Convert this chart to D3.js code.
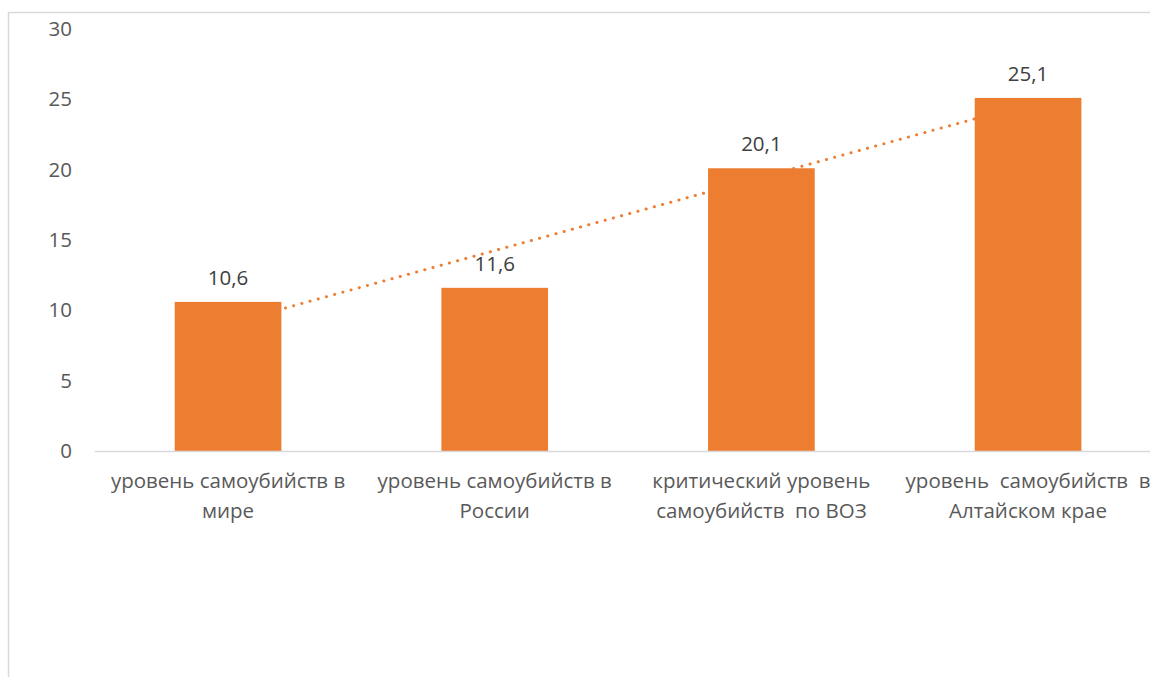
<!DOCTYPE html>
<html>
<head>
<meta charset="utf-8">
<script src="https://cdn.jsdelivr.net/npm/d3@7/dist/d3.min.js"></script>
<style>
  html, body { margin: 0; padding: 0; background: #fff; }
  svg { display: block; }
  text { font-family: "Open Sans", "Noto Sans", sans-serif; }
</style>
</head>
<body>
<svg id="chart" width="1150" height="677"></svg>
<script>
// Suicide rate per 100 000 population
const categories = [
  ["уровень самоубийств в", "мире"],
  ["уровень самоубийств в", "России"],
  ["критический уровень", "самоубийств  по ВОЗ"],
  ["уровень  самоубийств  в", "Алтайском крае"]
];
const values = [10.6, 11.6, 20.1, 25.1];
const valueLabels = ["10,6", "11,6", "20,1", "25,1"];
const yTicks = [0, 5, 10, 15, 20, 25, 30];

const svg = d3.select("#chart");
const W = 1150, H = 677;
const FONT = 20.5;

// chart frame (continues past the right and bottom edges)
svg.append("path")
  .attr("d", `M8.5,${H + 2}V12.5H${W + 2}`)
  .attr("fill", "none")
  .attr("stroke", "#d9d9d9")
  .attr("stroke-width", 1.5);

const plot = { left: 94.7, right: 1161.4, top: 29, bottom: 451 };
const ids = categories.map((_, i) => i);

const x = d3.scaleBand()
  .domain(ids)
  .range([plot.left, plot.right])
  .paddingInner(0.6)
  .paddingOuter(0.3);

const y = d3.scaleLinear()
  .domain([0, 30])
  .range([plot.bottom, plot.top]);

// y axis labels
const yAxis = d3.axisLeft(y).tickValues(yTicks).tickSize(0).tickPadding(0);
svg.append("g")
  .attr("transform", `translate(72,0)`)
  .call(yAxis)
  .call(g => g.select(".domain").remove())
  .call(g => g.selectAll("text")
    .attr("fill", "#595959")
    .style("font-size", FONT + "px")
    .style("font-family", "'Open Sans', sans-serif"));

// linear trend over the category series
const n = values.length;
const xs = ids.map(i => i + 1);
const mx = d3.mean(xs), my = d3.mean(values);
const slope = d3.sum(xs, (v, i) => (v - mx) * (values[i] - my)) / d3.sum(xs, v => (v - mx) ** 2);
const intercept = my - slope * mx;
const cx = i => x(i) + x.bandwidth() / 2;
const trend = [0, n - 1].map(i => [cx(i), y(intercept + slope * (i + 1))]);

svg.append("path")
  .attr("d", d3.line()(trend))
  .attr("fill", "none")
  .attr("stroke", "#ED7D31")
  .attr("stroke-width", 3)
  .attr("stroke-linecap", "round")
  .attr("stroke-dasharray", "0.1 8.4");

// bars
svg.append("g").selectAll("rect")
  .data(values)
  .join("rect")
  .attr("x", (d, i) => x(i))
  .attr("y", d => y(d))
  .attr("width", x.bandwidth())
  .attr("height", d => y(0) - y(d))
  .attr("fill", "#ED7D31");

// category axis line
svg.append("line")
  .attr("x1", plot.left).attr("x2", W)
  .attr("y1", plot.bottom + 0.5).attr("y2", plot.bottom + 0.5)
  .attr("stroke", "#d9d9d9")
  .attr("stroke-width", 1.5);

// value labels
svg.append("g").selectAll("text")
  .data(values)
  .join("text")
  .attr("x", (d, i) => cx(i))
  .attr("y", d => y(d) - 17)
  .attr("text-anchor", "middle")
  .attr("fill", "#404040")
  .style("font-size", FONT + "px")
  .text((d, i) => valueLabels[i]);

// category labels
const cat = svg.append("g").selectAll("text")
  .data(categories)
  .join("text")
  .attr("text-anchor", "middle")
  .attr("fill", "#595959")
  .attr("xml:space", "preserve")
  .style("white-space", "pre")
  .style("font-size", FONT + "px");
cat.each(function (lines, i) {
  const t = d3.select(this);
  lines.forEach((line, k) => {
    t.append("tspan")
      .attr("x", cx(i))
      .attr("y", 488 + k * 30)
      .text(line);
  });
});
</script>
</body>
</html>
